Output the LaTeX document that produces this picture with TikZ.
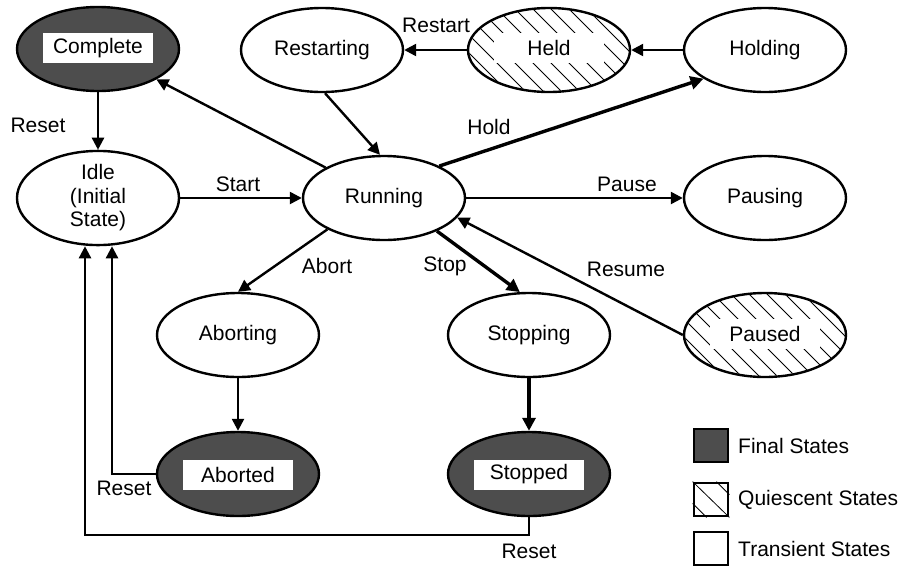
\documentclass[tikz,border=0pt]{standalone}
\usepackage{fontspec}
\setmainfont{Liberation Sans}
\usetikzlibrary{shapes.geometric,arrows.meta,calc}
\definecolor{finalgray}{RGB}{77,77,77}
\tikzset{
  state/.style={ellipse,draw=black,line width=2.4pt,minimum width=162pt,minimum height=84pt,inner sep=0pt,fill=white},
  finalst/.style={state,fill=finalgray},
  txtbox/.style={fill=white,minimum width=110pt,minimum height=30pt,inner sep=0pt},
  lbl/.style={inner sep=0pt},
  hatch/.style={line width=0.8pt},
  arr/.style={line width=2.4pt,-{Triangle[length=12pt,width=12pt]}},
  thickarr/.style={line width=3.4pt,-{Triangle[length=13pt,width=13pt]}},
  legbox/.style={draw=black,line width=2.8pt,minimum width=34pt,minimum height=33pt,inner sep=0pt},
}
\newcommand{\hatchellipse}[1]{%
  \begin{scope}
    \clip (#1.center) ellipse (80pt and 41pt);
    \foreach \k in {-9,...,9}{
      \draw[hatch] ($(#1.center)+(\k*18+7-60,-60)$) -- ++(120,120);
    }
  \end{scope}}
\begin{document}
\begin{tikzpicture}[x=1pt,y=-1pt,font=\fontsize{21}{23.5}\selectfont]
\useasboundingbox (0,0) rectangle (902,568);
% states
\node[finalst] (complete) at (98,49) {};
\node[txtbox] (completelbl) at (98,48) {Complete};
\node[state] (restarting) at (322,50) {Restarting};
\node[state] (held) at (549,50) {};
\hatchellipse{held}
\node[txtbox] (heldlbl) at (549,48) {Held};
\node[state] (holding) at (765,50) {Holding};
\node[state,align=center] (idle) at (98,198) {Idle\\(Initial\\State)};
\node[state] (running) at (384,198) {Running};
\node[state] (pausing) at (765,198) {Pausing};
\node[state] (aborting) at (238,335) {Aborting};
\node[state] (stopping) at (529,335) {Stopping};
\node[state] (paused) at (765,335) {};
\hatchellipse{paused}
\node[txtbox] (pausedlbl) at (765,334) {Paused};
\node[finalst] (aborted) at (238,474) {};
\node[txtbox] (abortedlbl) at (238,474.5) {Aborted};
\node[finalst] (stopped) at (529,474) {};
\node[txtbox] (stoppedlbl) at (529,474.5) {Stopped};
% connectors
\draw[arr] (complete) -- (idle);
\draw[arr] (idle) -- (running);
\draw[arr] (running) -- (complete);
\draw[arr] ([xshift=3pt]restarting.south) -- ([xshift=-4pt]running.north);
\draw[arr] (held) -- (restarting);
\draw[arr] (holding) -- (held);
\draw[thickarr] (running.30) -- (holding.205);
\draw[arr] (running) -- (pausing);
\draw[arr] (paused.west) -- (running.-15);
\draw[thickarr] (running.-32) -- (stopping.102);
\draw[arr] (running.209) -- (aborting.north);
\draw[arr] (aborting) -- (aborted);
\draw[thickarr] (stopping) -- (stopped);
\draw[arr] (aborted.west) -| ([xshift=14pt]idle.south);
\coordinate (bend) at (529,535);
\draw[arr] (stopped.south) -- (bend) -| ([xshift=-13pt]idle.south);
% labels
\node[lbl] (lreset1) at (38,125) {Reset};
\node[lbl] (lstart) at (238,184) {Start};
\node[lbl] (lrestart) at (436,25) {Restart};
\node[lbl] (lhold) at (489,127) {Hold};
\node[lbl] (lpause) at (627,184) {Pause};
\node[lbl] (lresume) at (626,269) {Resume};
\node[lbl] (labort) at (327,266) {Abort};
\node[lbl] (lstop) at (445,266) {Stop};
\node[lbl] (lreset2) at (124,488) {Reset};
\node[lbl] (lreset3) at (529,551) {Reset};
% legend
\node[legbox,fill=finalgray] (legfinal) at (711,445.5) {};
\node[legbox] (legquiet) at (711,499.5) {};
\draw[hatch] (legquiet.north west) -- (legquiet.south east);
\draw[hatch] ($(legquiet.north east)+(-13,0)$) -- ($(legquiet.north east)+(0,13)$);
\draw[hatch] ($(legquiet.south west)+(0,-14)$) -- ($(legquiet.south west)+(14,0)$);
\node[legbox] (legtrans) at (711,548.5) {};
\node[lbl,anchor=west] (tfinal) at (738,446) {Final States};
\node[lbl,anchor=west] (tquiet) at (738,500) {Quiescent States};
\node[lbl,anchor=west] (ttrans) at (738,549) {Transient States};
\end{tikzpicture}
\end{document}
